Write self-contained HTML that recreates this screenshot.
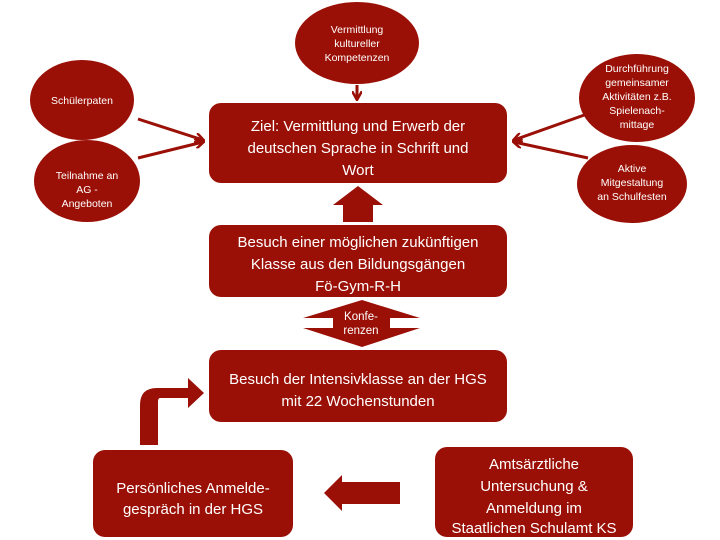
<!DOCTYPE html>
<html><head><meta charset="utf-8"><style>
html,body{margin:0;padding:0;background:#fff;}
svg{display:block;}
text{font-family:"Liberation Sans",sans-serif;fill:#fff;text-anchor:middle;}
</style></head><body>
<svg width="720" height="540" viewBox="0 0 720 540">
<defs>
<marker id="ah" markerWidth="10" markerHeight="10" refX="8" refY="5" orient="auto" markerUnits="userSpaceOnUse">
<path d="M0,0 L9,5 L0,10" fill="none" stroke="#9a1006" stroke-width="2.5"/>
</marker>
</defs>
<g fill="#9a1006">
<ellipse cx="357" cy="43" rx="62" ry="41"/>
<ellipse cx="82" cy="100" rx="52" ry="40"/>
<ellipse cx="87" cy="181" rx="53" ry="41"/>
<ellipse cx="637" cy="98" rx="58" ry="44"/>
<ellipse cx="632" cy="184" rx="55" ry="39"/>
<rect x="209" y="103" width="298" height="80" rx="12"/>
<rect x="209" y="225" width="298" height="72" rx="12"/>
<rect x="209" y="350" width="298" height="72" rx="12"/>
<rect x="93" y="450" width="200" height="87" rx="12"/>
<rect x="435" y="447" width="198" height="90" rx="12"/>
<polygon points="343,222 373,222 373,205 383,205 358,186 333,205 343,205"/>
<polygon points="362,300 420,318 390,318 390,328 420,328 362,347 303,328 333,328 333,318 303,318"/>
<path d="M140,445 L140,405 Q140,388 157,388 L188,388 L188,378 L204,393 L188,408 L188,398 L160,398 Q158,398 158,402 L158,445 Z"/>
<polygon points="400,482 342,482 342,475 324,493 342,511 342,504 400,504"/>
</g>
<g stroke="#9a1006" stroke-width="3" fill="none" marker-end="url(#ah)">
<line x1="357" y1="85" x2="357" y2="99"/>
<line x1="138" y1="119" x2="203" y2="140"/>
<line x1="138" y1="158" x2="203" y2="142"/>
<line x1="590" y1="113" x2="514" y2="140"/>
<line x1="588" y1="158" x2="514" y2="142"/>
</g>
<g font-size="10.5">
<text x="357" y="33">Vermittlung</text>
<text x="357" y="47">kultureller</text>
<text x="357" y="61">Kompetenzen</text>
<text x="82" y="104">Schülerpaten</text>
<text x="87" y="179">Teilnahme an</text>
<text x="87" y="193">AG -</text>
<text x="87" y="207">Angeboten</text>
<text x="637" y="72">Durchführung</text>
<text x="637" y="86">gemeinsamer</text>
<text x="637" y="100">Aktivitäten z.B.</text>
<text x="637" y="114">Spielenach-</text>
<text x="637" y="128">mittage</text>
<text x="632" y="172">Aktive</text>
<text x="632" y="186">Mitgestaltung</text>
<text x="632" y="200">an Schulfesten</text>
</g>
<g font-size="11.5">
<text x="361" y="320">Konfe-</text>
<text x="361" y="334">renzen</text>
</g>
<g font-size="15">
<text x="358" y="131">Ziel: Vermittlung und Erwerb der</text>
<text x="358" y="153">deutschen Sprache in Schrift und</text>
<text x="358" y="175">Wort</text>
<text x="358" y="247">Besuch einer möglichen zukünftigen</text>
<text x="358" y="269">Klasse aus den Bildungsgängen</text>
<text x="358" y="291">Fö-Gym-R-H</text>
<text x="358" y="384">Besuch der Intensivklasse an der HGS</text>
<text x="358" y="406">mit 22 Wochenstunden</text>
<text x="193" y="493">Persönliches Anmelde-</text>
<text x="193" y="514">gespräch in der HGS</text>
<text x="534" y="469">Amtsärztliche</text>
<text x="534" y="491">Untersuchung &amp;</text>
<text x="534" y="513">Anmeldung im</text>
<text x="534" y="533">Staatlichen Schulamt KS</text>
</g>
</svg>
</body></html>
